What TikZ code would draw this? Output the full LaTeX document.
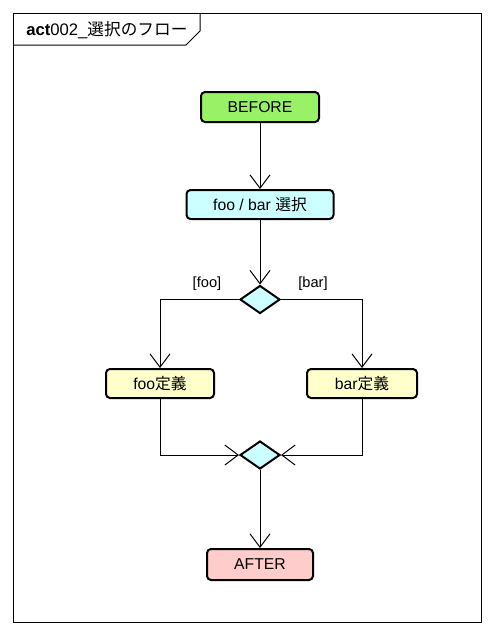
\documentclass[tikz,border=0pt]{standalone}
\usepackage{fontspec}
\setmainfont{Liberation Sans}
\newfontfamily\jpfont{Noto Sans CJK JP}
\usetikzlibrary{shapes.geometric,arrows.meta}
\definecolor{cgreen}{HTML}{99F266}
\definecolor{ccyan}{HTML}{CCFFFF}
\definecolor{cyellow}{HTML}{FFFFCC}
\definecolor{cpink}{HTML}{FFCCCC}
\tikzset{
  act/.style={draw=black, line width=1.5pt, rounded corners=3pt, font=\fontsize{11.8}{14}\selectfont, inner sep=0pt},
  dia/.style={draw=black, line width=1.5pt, diamond, fill=ccyan, minimum width=30pt, minimum height=21pt, inner sep=0pt},
  flow/.style={line width=0.75pt, -{Straight Barb[length=10pt,width=15pt,line width=0.75pt]}},
  guard/.style={font=\fontsize{11}{13}\selectfont, inner sep=0pt}
}
\begin{document}
\begin{tikzpicture}[x=0.75pt,y=-0.75pt]
\useasboundingbox (0,0) rectangle (494,636);
% frame
\draw[line width=0.75pt] (13,13) rectangle (481,622);
\draw[line width=0.75pt] (13,45) -- (186,45) -- (200,31) -- (200,13);
\node[anchor=west, font=\fontsize{12.5}{14}\selectfont, inner sep=0pt] (title) at (26,30.5) {\textbf{act}002\_{\jpfont 選択のフロー}};
% nodes
\node[act, fill=cgreen, minimum width=88.5pt, minimum height=22.5pt] (before) at (260,107) {BEFORE};
\node[act, fill=ccyan, minimum width=110.25pt, minimum height=21.75pt] (select) at (260,204.5) {foo / bar {\jpfont 選択}};
\node[dia] (dec) at (260,299.5) {};
\node[act, fill=cyellow, minimum width=81pt, minimum height=21.75pt] (foo) at (160,383.5) {foo{\jpfont 定義}};
\node[act, fill=cyellow, minimum width=82.5pt, minimum height=21.75pt] (bar) at (362,383.5) {bar{\jpfont 定義}};
\node[dia] (merge) at (260,455) {};
\node[act, fill=cpink, minimum width=79.5pt, minimum height=23.25pt] (after) at (260,564.5) {AFTER};
% edges
\draw[flow] (before) -- (select);
\draw[flow] (select) -- (dec);
\draw[flow] (dec.west) -| (foo.north);
\draw[flow] (dec.east) -| (bar.north);
\draw[flow] (foo.south) |- (merge.west);
\draw[flow] (bar.south) |- (merge.east);
\draw[flow] (merge.south) -- (after.north);
% guards
\node[guard] (gfoo) at (207,284) {[foo]};
\node[guard] (gbar) at (313,284) {[bar]};
\end{tikzpicture}
\end{document}
